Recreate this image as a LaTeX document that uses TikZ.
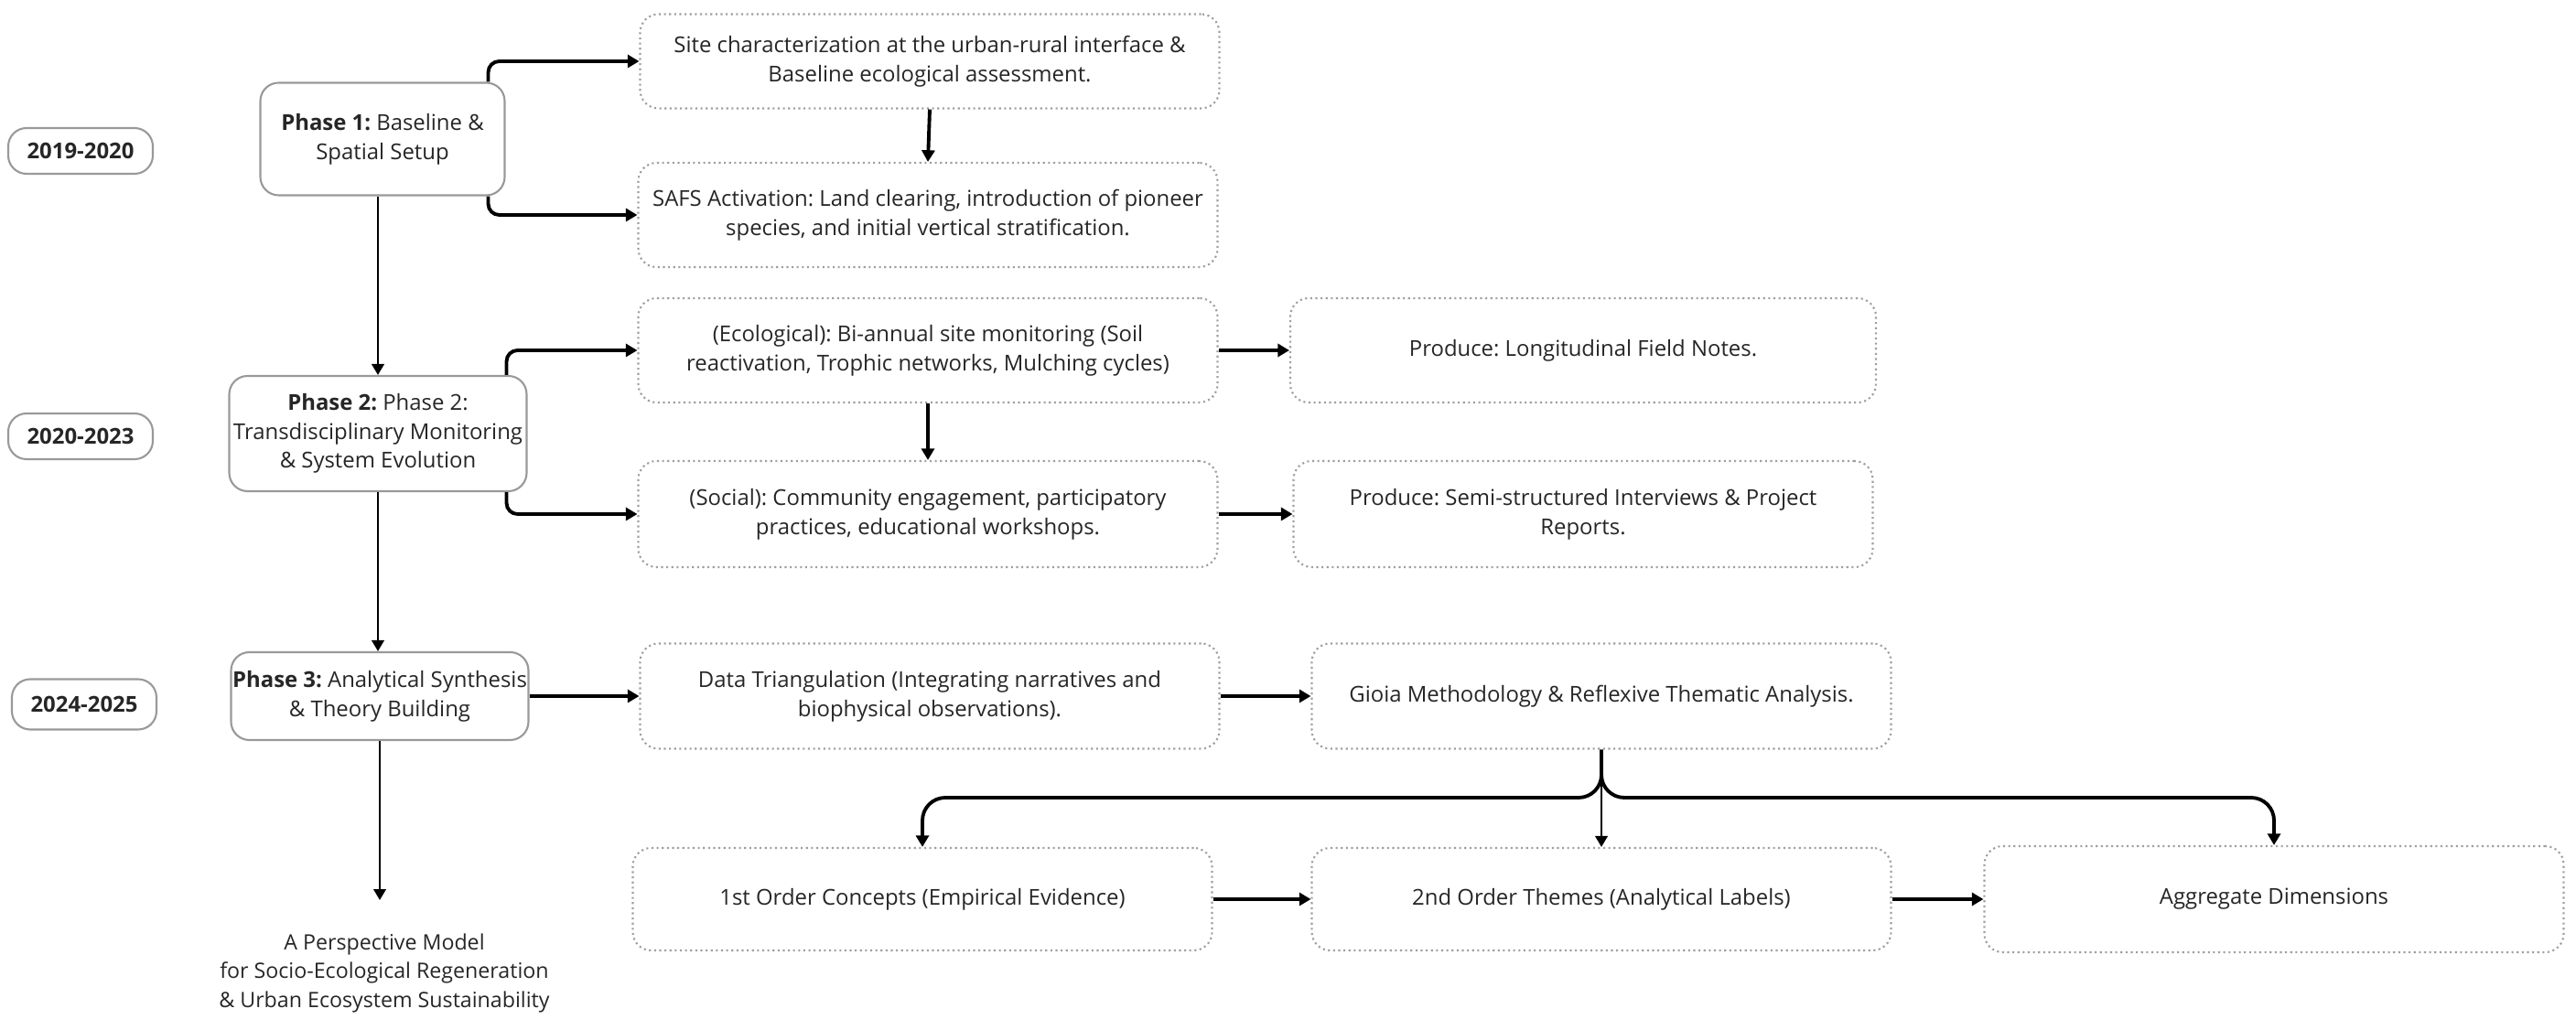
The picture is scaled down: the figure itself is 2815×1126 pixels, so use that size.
\documentclass[tikz,border=0pt]{standalone}
\usepackage{fontspec}
\setmainfont{Open Sans}
\frenchspacing
\usetikzlibrary{arrows.meta}
\begin{document}
\begin{tikzpicture}[x=0.1mm,y=-0.1mm,every node/.style={align=center,inner sep=0pt,text=black!85,font=\fontsize{6.8}{9}\selectfont},
	phase/.style={draw=gray!80,line width=0.6pt,rounded corners=2mm},
	stage/.style={draw=gray!75,densely dotted,line width=0.6pt,rounded corners=2mm,minimum width=63.3mm},
	year/.style={draw=gray!80,line width=0.6pt,rounded corners=2mm,minimum width=15.8mm,minimum height=5mm,font=\fontsize{6.8}{9}\selectfont\bfseries},
	arr/.style={-{Triangle[length=3.6pt,width=4pt]},line width=1.1pt},
	thinarr/.style={-{Triangle[length=3.4pt,width=3.8pt]},line width=0.75pt}]
	\useasboundingbox (0,0) rectangle (2815,1126);
	\node[year] (y1) at (88,165){2019-2020};
	\node[year] (y2) at (88,477){2020-2023};
	\node[year,minimum height=5.5mm] (y3) at (92,770){2024-2025};
	\node[phase,minimum width=26.7mm,minimum height=12.3mm] (p1) at (418,152){\textbf{Phase 1:} Baseline \&\\Spatial Setup};
	\node[phase,minimum width=32.5mm,minimum height=12.6mm] (p2) at (413,474){\textbf{Phase 2:} Phase 2:\\Transdisciplinary Monitoring\\\& System Evolution};
	\node[phase,minimum width=32.5mm,minimum height=9.6mm] (p3) at (415,761){\textbf{Phase 3:} Analytical Synthesis\\\& Theory Building};
	\node[anchor=north,inner ysep=3.6mm,font=\fontsize{6.6}{9}\selectfont] (model) at (420,984){A Perspective Model\\for Socio-Ecological Regeneration\\\& Urban Ecosystem Sustainability};
	\node[stage,minimum height=10.3mm] (site) at (1016,67){Site characterization at the urban-rural interface \&\\Baseline ecological assessment.};
	\node[stage,minimum height=11.4mm] (safs) at (1014,235){SAFS Activation: Land clearing, introduction of pioneer\\species, and initial vertical stratification.};
	\node[stage,minimum height=11.4mm] (eco) at (1014,383){(Ecological): Bi-annual site monitoring (Soil\\reactivation, Trophic networks, Mulching cycles)};
	\node[stage,minimum height=11.6mm] (social) at (1014,562){(Social): Community engagement, participatory\\practices, educational workshops.};
	\node[stage,minimum height=11.4mm,minimum width=64mm] (notes) at (1730,383){Produce: Longitudinal Field Notes.};
	\node[stage,minimum height=11.6mm] (reports) at (1730,562){Produce: Semi-structured Interviews \& Project\\Reports.};
	\node[stage,minimum height=11.5mm] (tri) at (1016,761){Data Triangulation (Integrating narratives and\\biophysical observations).};
	\node[stage,minimum height=11.5mm] (gioia) at (1750,761){Gioia Methodology \& Reflexive Thematic Analysis.};
	\node[stage,minimum height=11.2mm] (first) at (1008,983){1st Order Concepts (Empirical Evidence)};
	\node[stage,minimum height=11.2mm] (second) at (1750,983){2nd Order Themes (Analytical Labels)};
	\node[stage,minimum height=11.6mm] (aggr) at (2485,983){Aggregate Dimensions};
	\coordinate (split) at (1750,872);
	\draw[thinarr] (p2.north |- p1.south)--(p2.north);
	\draw[thinarr] (p2.south)--(p2.south |- p3.north);
	\draw[thinarr] (p3.south)--(p3.south |- model.north);
	\draw[arr,rounded corners=1.2mm] ([xshift=-1.9mm]p1.north east) |- (site.west);
	\draw[arr,rounded corners=1.2mm] ([xshift=-1.9mm]p1.south east) |- (safs.west);
	\draw[arr,rounded corners=1.2mm] ([xshift=-2.3mm]p2.north east) |- (eco.west);
	\draw[arr,rounded corners=1.2mm] ([xshift=-2.3mm]p2.south east) |- (social.west);
	\draw[arr] (site.south)--(safs.north);
	\draw[arr] (eco.south)--(social.north);
	\draw[arr] (eco.east)--(notes.west);
	\draw[arr] (social.east)--(reports.west);
	\draw[arr] (p3.east)--(tri.west);
	\draw[arr] (tri.east)--(gioia.west);
	\draw[thinarr] (gioia.south)--(second.north);
	\draw[arr,rounded corners=2.5mm] (gioia.south)--(split) -| (first.north);
	\draw[arr,rounded corners=2.5mm] (gioia.south)--(split) -| (aggr.north);
	\draw[arr] (first.east)--(second.west);
	\draw[arr] (second.east)--(aggr.west);
\end{tikzpicture}
\end{document}
